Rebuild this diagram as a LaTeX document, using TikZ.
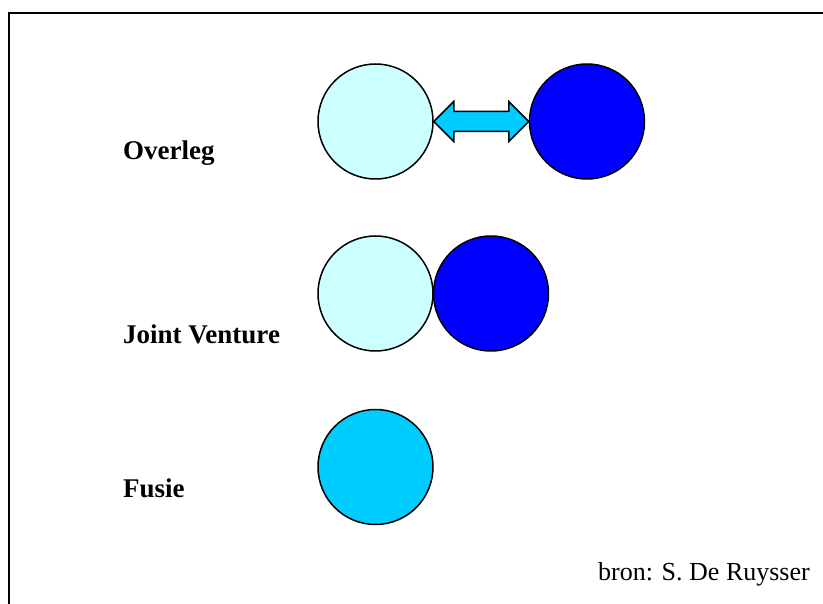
\documentclass[tikz,border=0pt]{standalone}
\usepackage{fontspec}
\setmainfont{Liberation Serif}
\usetikzlibrary{calc}
\definecolor{paleCyan}{HTML}{CCFFFF}
\definecolor{deepBlue}{HTML}{0000FF}
\definecolor{skyCyan}{HTML}{00CCFF}
\begin{document}
\begin{tikzpicture}[x=1pt,y=-1pt,
  firm/.style={circle,draw=black,line width=1.5pt,minimum size=115pt,inner sep=0pt},
  link/.style={draw=black,line width=1.5pt,fill=skyCyan,line join=miter},
  rowlabel/.style={anchor=base west,font=\fontsize{27}{31}\selectfont\bfseries,inner sep=0pt},
  credit/.style={anchor=base east,font=\fontsize{26}{30}\selectfont,inner sep=0pt}]
\useasboundingbox (0,0) rectangle (823,604);
% frame: top and left edges
\draw[line width=2pt] (9,604) -- (9,13) -- (823,13);
% Overleg: two firms linked by a double-headed block arrow
\node[firm,fill=paleCyan] (o1) at (375.5,121.5) {};
\node[firm,fill=deepBlue] (o2) at (587,121.5) {};
\coordinate (ta) at (o1.east);
\coordinate (tb) at (o2.west);
\draw[link] (ta) -- ($(ta)+(20,-20)$) -- ($(ta)+(20,-10)$) -- ($(tb)+(-20,-10)$)
  -- ($(tb)+(-20,-20)$) -- (tb) -- ($(tb)+(-20,20)$) -- ($(tb)+(-20,10)$)
  -- ($(ta)+(20,10)$) -- ($(ta)+(20,20)$) -- cycle;
\node[rowlabel] (lo) at (123,160) {Overleg};
% Joint Venture: two firms touching
\node[firm,fill=paleCyan] (j1) at (375.5,293.5) {};
\node[firm,fill=deepBlue] (j2) at (491,293.5) {};
\node[rowlabel] (lj) at (123,344) {Joint Venture};
% Fusie: one merged firm
\node[firm,fill=skyCyan] (f1) at (375.5,467) {};
\node[rowlabel] (lf) at (123,497) {Fusie};
% source
\node[credit] (src) at (810,580) {bron: S. De Ruysser};
\end{tikzpicture}
\end{document}
